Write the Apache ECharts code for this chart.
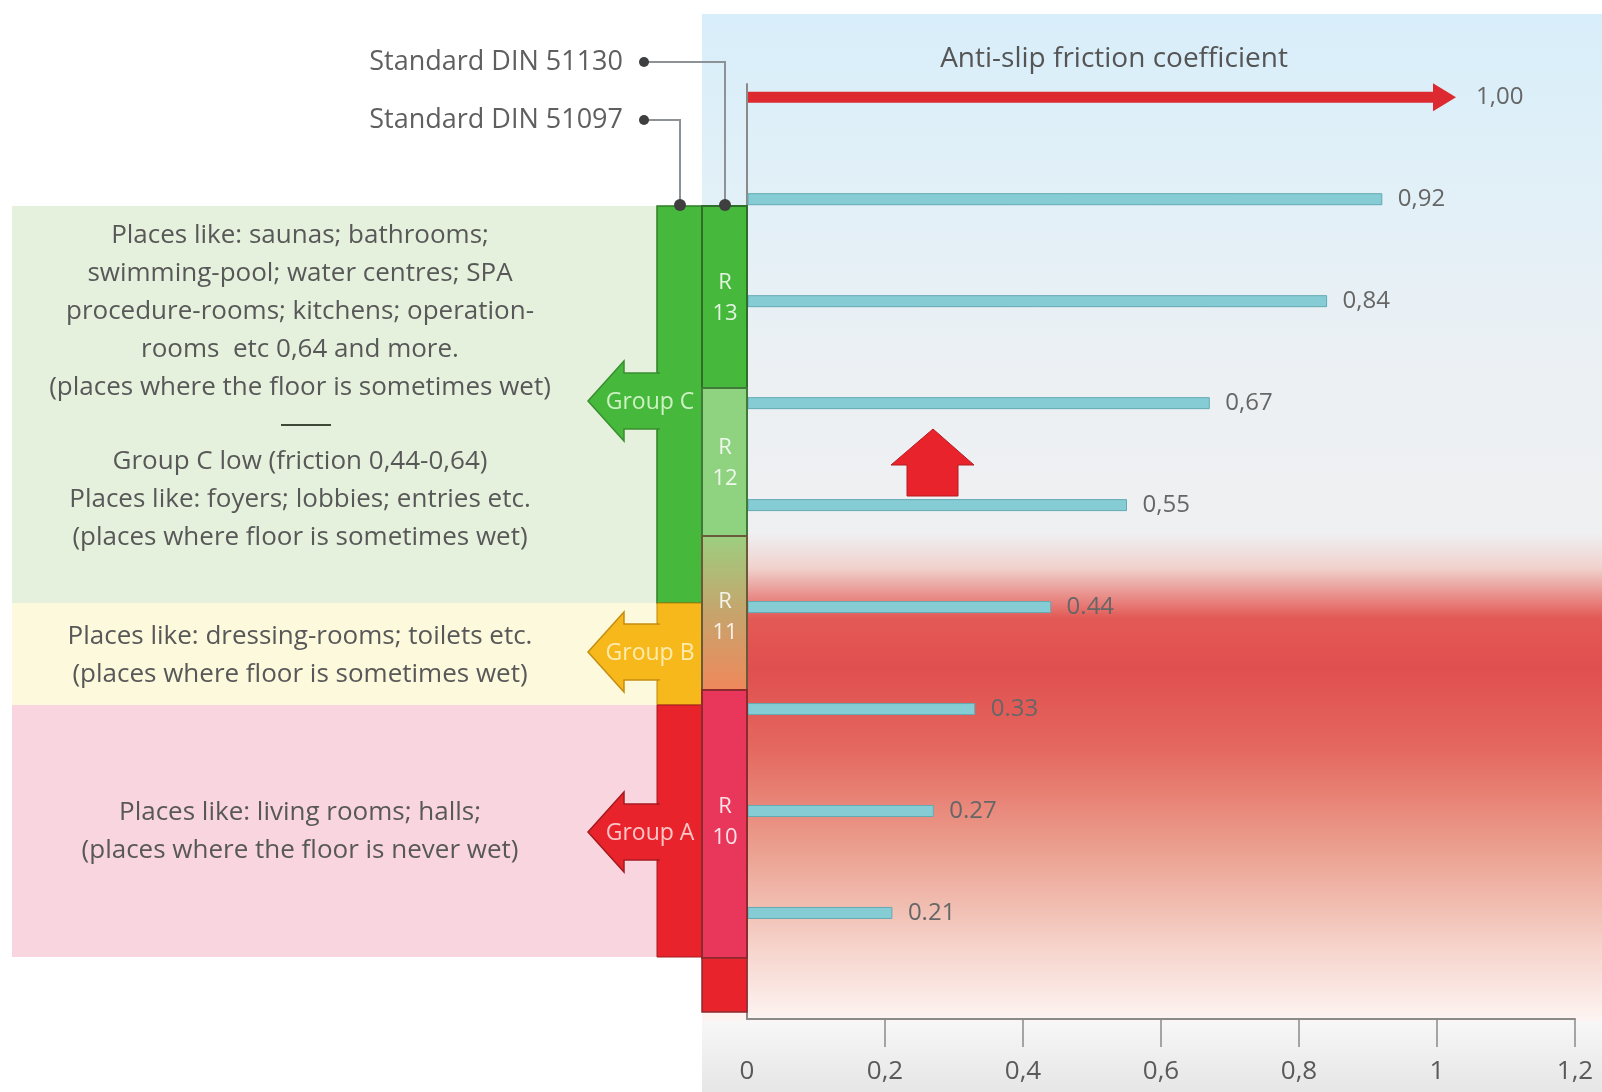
<!DOCTYPE html>
<html>
<head>
<meta charset="utf-8">
<title>Anti-slip friction coefficient</title>
<script src="https://cdn.jsdelivr.net/npm/echarts@6.0.0/dist/echarts.min.js"></script>
<style>
  html, body { margin: 0; padding: 0; background: #ffffff; }
  #chart { width: 1602px; height: 1092px; }
</style>
</head>
<body>
<div id="chart"></div>
<script>
// Friction coefficients of the sample rows (top to bottom) and their printed labels
const rowValues = [0.92, 0.84, 0.67, 0.55, 0.44, 0.33, 0.27, 0.21];
const rowLabels = ['0,92', '0,84', '0,67', '0,55', '0.44', '0.33', '0.27', '0.21'];
// Reference maximum shown as the red arrow
const topValue = 1.00;
const topLabel = '1,00';
// Horizontal axis ticks
const xTickValues = [0, 0.2, 0.4, 0.6, 0.8, 1, 1.2];
const xTickLabels = ['0', '0,2', '0,4', '0,6', '0,8', '1', '1,2'];
const axisTitle = 'Anti-slip friction coefficient';
const standardNames = ['Standard DIN 51130', 'Standard DIN 51097'];
const groupNames = ['Group C', 'Group B', 'Group A'];
const rClassNames = ['R\n13', 'R\n12', 'R\n11', 'R\n10'];
const groupCText = 'Places like: saunas; bathrooms;\nswimming-pool; water centres; SPA\nprocedure-rooms; kitchens; operation-\nrooms  etc 0,64 and more.\n(places where the floor is sometimes wet)';
const groupCLowText = 'Group C low (friction 0,44-0,64)\nPlaces like: foyers; lobbies; entries etc.\n(places where floor is sometimes wet)';
const groupBText = 'Places like: dressing-rooms; toilets etc.\n(places where floor is sometimes wet)';
const groupAText = 'Places like: living rooms; halls;\n(places where the floor is never wet)';

const FONT = '"Open Sans", Lato, sans-serif';
const chart = echarts.init(document.getElementById('chart'), null, { renderer: 'canvas' });

// Row index 0 is the reference arrow, rows 1..8 are the samples
const barData = rowValues.map((v, i) => [v, i + 1, i]);

function groupArrow(cy, fill, stroke, name, textFill) {
  const tipX = 588, headX = 624, colX = 659;
  return [
    {
      type: 'polygon', z: 6,
      shape: { points: [[tipX, cy], [headX, cy - 40], [headX, cy - 28], [colX, cy - 28], [colX, cy + 28], [headX, cy + 28], [headX, cy + 40]] },
      style: { fill: fill, stroke: stroke, lineWidth: 1.5 }
    },
    {
      type: 'rect', z: 6, shape: { x: 655, y: cy - 27, width: 6, height: 54 }, style: { fill: fill }
    },
    {
      type: 'text', z: 8, x: 650, y: cy + 1,
      style: { text: name, font: '23px ' + FONT, fill: textFill, align: 'center', verticalAlign: 'middle' }
    }
  ];
}

const graphics = [
  // right-hand plot background: sky blue fading to grey, then a red band fading to white
  {
    type: 'rect', z: -10, shape: { x: 702, y: 14, width: 900, height: 1007 },
    style: {
      fill: new echarts.graphic.LinearGradient(0, 0, 0, 1, [
        { offset: 0, color: '#d8eefa' },
        { offset: 0.2, color: '#e3f0f7' },
        { offset: 0.36, color: '#ecf0f3' },
        { offset: 0.515, color: '#eff0f2' },
        { offset: 0.55, color: '#f0d2cd' },
        { offset: 0.6, color: '#e35955' },
        { offset: 0.65, color: '#e04f4f' },
        { offset: 0.73, color: '#e4685f' },
        { offset: 0.83, color: '#eba08f' },
        { offset: 0.93, color: '#f6d5cd' },
        { offset: 1, color: '#fdf4f2' }
      ])
    }
  },
  // band behind the tick labels
  {
    type: 'rect', z: -10, shape: { x: 702, y: 1021, width: 900, height: 71 },
    style: {
      fill: new echarts.graphic.LinearGradient(0, 0, 0, 1, [
        { offset: 0, color: '#f7f7f7' },
        { offset: 1, color: '#e6e6e6' }
      ])
    }
  },
  // description panels
  { type: 'rect', z: 1, shape: { x: 12, y: 206, width: 645, height: 397 }, style: { fill: '#e5f1dd' } },
  { type: 'rect', z: 1, shape: { x: 12, y: 603, width: 645, height: 102 }, style: { fill: '#fcf9dc' } },
  { type: 'rect', z: 1, shape: { x: 12, y: 705, width: 645, height: 252 }, style: { fill: '#f9d6df' } },
  // group column (DIN 51097)
  { type: 'rect', z: 5, shape: { x: 657, y: 206, width: 45, height: 397 }, style: { fill: '#46b83b', stroke: '#2f7d2a', lineWidth: 1.5 } },
  { type: 'rect', z: 5, shape: { x: 657, y: 603, width: 45, height: 102 }, style: { fill: '#f7b81b', stroke: '#b8860b', lineWidth: 1 } },
  { type: 'rect', z: 5, shape: { x: 657, y: 705, width: 45, height: 252 }, style: { fill: '#e8232b', stroke: '#a51b20', lineWidth: 1 } },
  // R class column (DIN 51130)
  { type: 'rect', z: 5, shape: { x: 702, y: 206, width: 45, height: 182 }, style: { fill: '#46b83b', stroke: '#2f6e2a', lineWidth: 2 } },
  { type: 'rect', z: 5, shape: { x: 702, y: 388, width: 45, height: 148 }, style: { fill: '#8fd381', stroke: '#3f7a38', lineWidth: 2 } },
  {
    type: 'rect', z: 5, shape: { x: 702, y: 536, width: 45, height: 154 },
    style: {
      fill: new echarts.graphic.LinearGradient(0, 0, 0, 1, [
        { offset: 0, color: '#9ccf80' },
        { offset: 0.5, color: '#c6a46c' },
        { offset: 1, color: '#f0885b' }
      ]),
      stroke: '#6b5a3a', lineWidth: 2
    }
  },
  { type: 'rect', z: 5, shape: { x: 702, y: 690, width: 45, height: 268 }, style: { fill: '#e8375a', stroke: '#8c2a30', lineWidth: 2 } },
  { type: 'rect', z: 5, shape: { x: 702, y: 958, width: 45, height: 54 }, style: { fill: '#e8232b', stroke: '#8c2a30', lineWidth: 1.5 } },
  // R class labels
  { type: 'text', z: 8, x: 725, y: 298, style: { text: rClassNames[0], font: '22px ' + FONT, fill: 'rgba(255,255,255,0.85)', align: 'center', verticalAlign: 'middle', lineHeight: 31 } },
  { type: 'text', z: 8, x: 725, y: 463, style: { text: rClassNames[1], font: '22px ' + FONT, fill: 'rgba(255,255,255,0.85)', align: 'center', verticalAlign: 'middle', lineHeight: 31 } },
  { type: 'text', z: 8, x: 725, y: 617, style: { text: rClassNames[2], font: '22px ' + FONT, fill: 'rgba(255,255,255,0.85)', align: 'center', verticalAlign: 'middle', lineHeight: 31 } },
  { type: 'text', z: 8, x: 725, y: 822, style: { text: rClassNames[3], font: '22px ' + FONT, fill: 'rgba(255,255,255,0.85)', align: 'center', verticalAlign: 'middle', lineHeight: 31 } },
  // panel texts
  { type: 'text', z: 8, x: 300, y: 312, style: { text: groupCText, font: '26px ' + FONT, fill: '#585858', align: 'center', verticalAlign: 'middle', lineHeight: 38 } },
  { type: 'line', z: 8, shape: { x1: 281, y1: 425, x2: 331, y2: 425 }, style: { stroke: '#3d4a38', lineWidth: 2 } },
  { type: 'text', z: 8, x: 300, y: 500, style: { text: groupCLowText, font: '26px ' + FONT, fill: '#585858', align: 'center', verticalAlign: 'middle', lineHeight: 38 } },
  { type: 'text', z: 8, x: 300, y: 656, style: { text: groupBText, font: '26px ' + FONT, fill: '#585858', align: 'center', verticalAlign: 'middle', lineHeight: 38 } },
  { type: 'text', z: 8, x: 300, y: 832, style: { text: groupAText, font: '26px ' + FONT, fill: '#585858', align: 'center', verticalAlign: 'middle', lineHeight: 38 } },
  // standards and their leader lines
  { type: 'text', z: 8, x: 623, y: 62, style: { text: standardNames[0], font: '27px ' + FONT, fill: '#5f5f5f', align: 'right', verticalAlign: 'middle' } },
  { type: 'text', z: 8, x: 623, y: 120, style: { text: standardNames[1], font: '27px ' + FONT, fill: '#5f5f5f', align: 'right', verticalAlign: 'middle' } },
  { type: 'polyline', z: 7, shape: { points: [[644, 62], [725, 62], [725, 206]] }, style: { stroke: '#8d9296', lineWidth: 2, fill: null } },
  { type: 'polyline', z: 7, shape: { points: [[644, 120], [680, 120], [680, 206]] }, style: { stroke: '#8d9296', lineWidth: 2, fill: null } },
  { type: 'circle', z: 8, shape: { cx: 644, cy: 62, r: 5 }, style: { fill: '#3f3f3f' } },
  { type: 'circle', z: 8, shape: { cx: 644, cy: 120, r: 5 }, style: { fill: '#3f3f3f' } },
  { type: 'circle', z: 8, shape: { cx: 725, cy: 205, r: 6 }, style: { fill: '#3f3f3f' } },
  { type: 'circle', z: 8, shape: { cx: 680, cy: 205, r: 6 }, style: { fill: '#3f3f3f' } },
  // axis title
  { type: 'text', z: 8, x: 1114, y: 59, style: { text: axisTitle, font: '28px ' + FONT, fill: '#555555', align: 'center', verticalAlign: 'middle' } },
  // upward arrow in the plot area
  {
    type: 'polygon', z: 6,
    shape: { points: [[933, 429], [974, 465], [958, 465], [958, 496], [907, 496], [907, 465], [891, 465]] },
    style: { fill: '#e8232b', stroke: '#b51d22', lineWidth: 1 }
  }
]
  .concat(groupArrow(401, '#46b83b', '#3a8f31', groupNames[0], 'rgba(230,250,220,0.85)'))
  .concat(groupArrow(652, '#f7b81b', '#c58f12', groupNames[1], 'rgba(255,245,200,0.85)'))
  .concat(groupArrow(832, '#e8232b', '#a51b20', groupNames[2], 'rgba(255,215,215,0.9)'));

const option = {
  backgroundColor: '#ffffff',
  animation: false,
  grid: { left: 747, right: 27, top: 84, bottom: 73, containLabel: false },
  xAxis: {
    type: 'value',
    min: 0, max: 1.2, interval: 0.2,
    axisLine: { show: true, onZero: false, lineStyle: { color: '#8a8a8a', width: 2 } },
    axisTick: { show: true, length: 28, customValues: xTickValues.slice(1), lineStyle: { color: '#8a8a8a', width: 1.5 } },
    axisLabel: {
      margin: 40, fontSize: 26, color: '#5a5a5a', fontFamily: FONT,
      formatter: function (v) {
        const k = xTickValues.findIndex(t => Math.abs(t - v) < 1e-6);
        return k >= 0 ? xTickLabels[k] : '';
      }
    },
    splitLine: { show: false }
  },
  yAxis: {
    type: 'value',
    inverse: true,
    min: -0.13, max: 9.04,
    axisLine: { show: true, onZero: false, lineStyle: { color: '#8a8a8a', width: 2 } },
    axisTick: { show: false },
    axisLabel: { show: false },
    splitLine: { show: false }
  },
  graphic: { elements: graphics },
  series: [
    {
      // reference maximum arrow
      type: 'custom',
      z: 4,
      data: [[topValue, 0]],
      renderItem: function (params, api) {
        const a = api.coord([0, api.value(1)]);
        const b = api.coord([api.value(0), api.value(1)]);
        const y = a[1];
        return {
          type: 'group',
          children: [
            { type: 'rect', shape: { x: a[0] + 1, y: y - 5.5, width: b[0] - a[0] - 2, height: 11 }, style: { fill: '#dc2a30' } },
            { type: 'polygon', shape: { points: [[b[0] - 4, y - 14], [b[0] + 19, y], [b[0] - 4, y + 14]] }, style: { fill: '#dc2a30' } },
            { type: 'text', x: b[0] + 39, y: y, style: { text: topLabel, font: '24px ' + FONT, fill: '#666666', align: 'left', verticalAlign: 'middle' } }
          ]
        };
      }
    },
    {
      // sample friction bars
      type: 'custom',
      z: 4,
      data: barData,
      renderItem: function (params, api) {
        const a = api.coord([0, api.value(1)]);
        const b = api.coord([api.value(0), api.value(1)]);
        const y = a[1];
        return {
          type: 'group',
          children: [
            { type: 'rect', shape: { x: a[0] + 1, y: y - 5.5, width: b[0] - a[0] - 1, height: 11 }, style: { fill: '#86ccd4', stroke: '#64aab3', lineWidth: 1 } },
            { type: 'text', x: b[0] + 16, y: y, style: { text: rowLabels[api.value(2)], font: '24px ' + FONT, fill: '#666666', align: 'left', verticalAlign: 'middle' } }
          ]
        };
      }
    }
  ]
};

chart.setOption(option);
</script>
</body>
</html>
